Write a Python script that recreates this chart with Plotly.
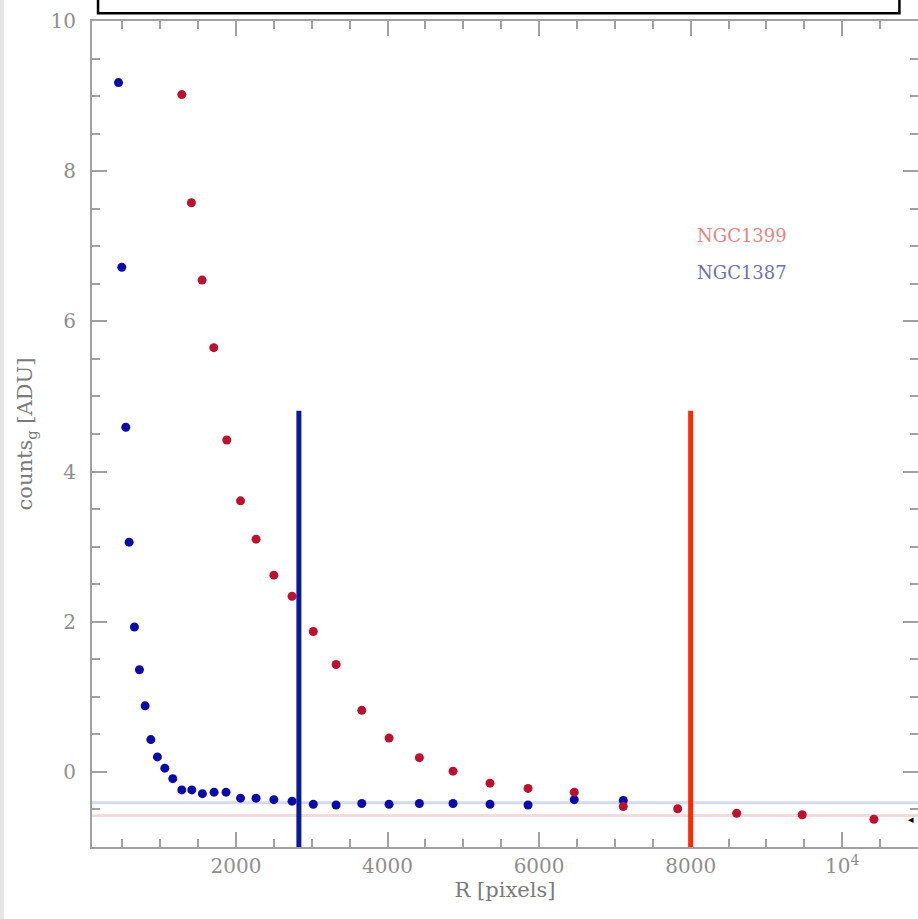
import plotly.graph_objects as go

# ---- data ----
ngc1387_r = [450, 493, 546, 590, 660, 726, 801, 876, 963, 1061, 1166, 1285, 1417, 1557, 1711,
             1869, 2060, 2265, 2500, 2740, 3020, 3321, 3660, 4020, 4420, 4864, 5352, 5854, 6464, 7111]
ngc1387_c = [9.18, 6.72, 4.59, 3.06, 1.93, 1.36, 0.88, 0.43, 0.20, 0.05, -0.09, -0.24, -0.24, -0.29, -0.27,
             -0.27, -0.35, -0.35, -0.37, -0.39, -0.43, -0.44, -0.42, -0.43, -0.42, -0.42, -0.43, -0.44, -0.37, -0.38]

ngc1399_r = [1285, 1412, 1553, 1707, 1879, 2060, 2265, 2500, 2740, 3020, 3321, 3660, 4020, 4420,
             4864, 5352, 5854, 6464, 7111, 7829, 8607, 9472, 10418]
ngc1399_c = [9.02, 7.58, 6.55, 5.65, 4.42, 3.61, 3.10, 2.62, 2.34, 1.87, 1.43, 0.82, 0.45, 0.19,
             0.01, -0.15, -0.22, -0.27, -0.46, -0.49, -0.55, -0.57, -0.63]

sky_level_1387 = -0.41
sky_level_1399 = -0.58
r_limit_1387 = 2830
r_limit_1399 = 8000
r_limit_top = 4.81

x_tickvals = [2000, 4000, 6000, 8000, 10000]
x_ticktext = ["2000", "4000", "6000", "8000", "10<sup>4</sup>"]
y_tickvals = [0, 2, 4, 6, 8, 10]

FONT = "DejaVu Serif"
GRAY = "#8e8e8e"

fig = go.Figure()

fig.add_trace(go.Scatter(x=ngc1387_r, y=ngc1387_c, mode="markers",
                         marker=dict(size=9, color="#0b0ba6"), showlegend=False))
fig.add_trace(go.Scatter(x=ngc1399_r, y=ngc1399_c, mode="markers",
                         marker=dict(size=9, color="#bb1230"), showlegend=False))

# sky levels (horizontal, below markers)
fig.add_shape(type="line", xref="paper", x0=0, x1=1, yref="y", y0=sky_level_1387, y1=sky_level_1387,
              line=dict(color="#d3daf1", width=3), layer="below")
fig.add_shape(type="line", xref="paper", x0=0, x1=1, yref="y", y0=sky_level_1399, y1=sky_level_1399,
              line=dict(color="#f1dcdc", width=3), layer="below")

# radius limits (vertical)
fig.add_shape(type="line", x0=r_limit_1387, x1=r_limit_1387, y0=-1, y1=r_limit_top,
              line=dict(color="#0a1a96", width=5))
fig.add_shape(type="line", x0=r_limit_1399, x1=r_limit_1399, y0=-1, y1=r_limit_top,
              line=dict(color="#ff2a00", width=5))

# black box at top (outside plot)
fig.add_shape(type="rect", xref="paper", yref="paper", x0=0.0073, x1=0.9775, y0=1.0093, y1=1.08,
              line=dict(color="black", width=2.5), fillcolor="rgba(0,0,0,0)")

# faint gray strip at the left edge of the image
fig.add_shape(type="rect", xref="paper", yref="paper", x0=-0.1114, x1=-0.1065, y0=-0.1, y1=1.05,
              line=dict(width=0), fillcolor="#e6e6e6")

fig.add_annotation(x=8677, y=7.14, text="NGC1399", showarrow=False,
                   font=dict(family=FONT, size=18, color="#e48484"))
fig.add_annotation(x=8677, y=6.65, text="NGC1387", showarrow=False,
                   font=dict(family=FONT, size=18, color="#6e6eb6"))
# small arrowhead at the right edge
fig.add_annotation(xref="paper", x=0.9975, y=-0.63, text="◂", showarrow=False,
                   font=dict(family="DejaVu Sans", size=11, color="black"))

axis_common = dict(
    showgrid=False, zeroline=False, showline=True, linecolor="#a0a0a0", linewidth=2,
    mirror="ticks", ticks="inside", ticklen=15, tickwidth=1.5, tickcolor="#a0a0a0",
    tickfont=dict(family=FONT, size=20, color=GRAY), automargin=False,
)

fig.update_xaxes(range=[100, 11000], tickvals=x_tickvals, ticktext=x_ticktext,
                 minor=dict(dtick=500, tick0=0, ticks="inside", ticklen=8, tickcolor="#a0a0a0", tickwidth=1.5),
                 title=dict(text="R [pixels]", font=dict(family=FONT, size=21, color="#7a7a7a"), standoff=4),
                 **axis_common)
fig.update_yaxes(range=[-1, 10], tickvals=y_tickvals,
                 minor=dict(dtick=0.5, tick0=0, ticks="inside", ticklen=8, tickcolor="#a0a0a0", tickwidth=1.5),
                 title=dict(text="counts<sub>g</sub> [ADU]", font=dict(family=FONT, size=21, color="#7a7a7a"),
                            standoff=12),
                 ticklabelstandoff=10,
                 **axis_common)

fig.update_layout(
    width=918, height=919,
    margin=dict(l=92, r=0, t=21, b=72),
    paper_bgcolor="white", plot_bgcolor="white",
    showlegend=False,
)

fig.write_html("out.html", config={"displayModeBar": False},
               post_script="document.body.style.margin='0';document.body.style.overflow='hidden';")
